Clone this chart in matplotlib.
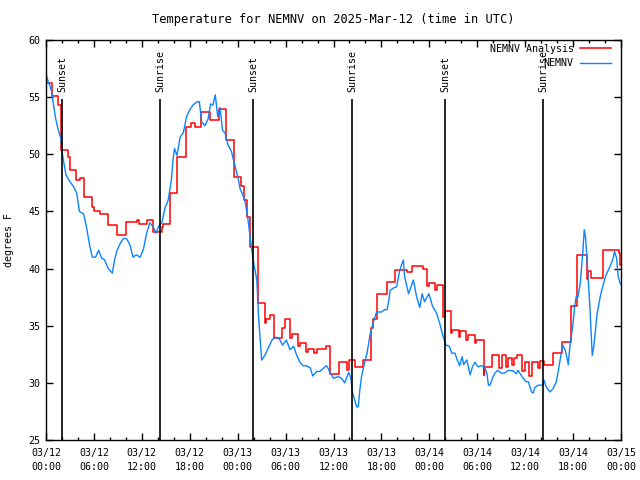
import datetime
import matplotlib
matplotlib.use('Agg')
import matplotlib.pyplot as plt
import matplotlib.dates as mdates

plt.rcParams['font.family'] = ['DejaVu Sans Mono']
plt.rcParams['font.size'] = 7.2

# 数据：起始时间之后的小时数
start = datetime.datetime(2025, 3, 12, 0, 0)

# NEMNV Analysis（阶梯线，变化时刻和数值）
analysis_hours = [0.0, 0.8, 1.5, 1.9, 2.8, 3.0, 3.7, 4.2, 4.8, 5.7, 6.0, 6.8, 7.8, 8.85,
                  9.98, 11.35, 11.65, 12.6, 13.4, 14.5, 14.7, 15.5, 16.4, 17.5, 18.2, 18.6,
                  19.4, 20.5, 21.6, 22.5, 23.5, 24.4, 24.8, 25.2, 25.5, 26.5, 27.4, 27.6,
                  28.0, 28.5, 29.6, 29.9, 30.6, 30.8, 31.6, 31.8, 32.6, 32.8, 33.6, 33.9,
                  35.0, 35.6, 36.7, 37.7, 37.9, 38.7, 39.7, 40.7, 40.9, 41.5, 42.7, 43.7,
                  45.2, 45.8, 47.25, 47.7, 48.0, 48.7, 48.9, 49.7, 49.9, 50.7, 50.9, 51.7,
                  51.9, 52.55, 52.9, 53.7, 53.9, 54.8, 54.9, 55.8, 56.7, 57.1, 57.6, 57.9,
                  58.3, 58.6, 59.0, 59.6, 60.0, 60.5, 60.8, 61.6, 61.8, 62.4, 63.5, 64.6,
                  65.8, 66.5, 67.7, 67.9, 68.3, 69.7, 71.7, 71.9, 72.0]
analysis_temps = [56.2, 55.1, 54.3, 50.4, 49.8, 48.6, 47.75, 47.9, 46.3, 45.4, 45.0, 44.8, 43.8, 42.9,
                  44.1, 44.25, 43.9, 44.25, 43.2, 43.6, 43.9, 46.6, 49.75, 52.4, 52.7, 52.4,
                  53.7, 53.0, 54.0, 51.25, 48.0, 47.2, 46.0, 44.5, 41.9, 37.0, 35.2, 35.6,
                  35.9, 33.9, 34.8, 35.6, 33.9, 34.3, 33.2, 33.5, 32.7, 32.95, 32.6, 32.95,
                  33.25, 30.8, 31.8, 31.1, 32.0, 31.4, 32.0, 34.8, 35.6, 37.75, 38.85, 39.9,
                  39.7, 40.2, 40.0, 38.5, 38.7, 38.1, 38.6, 35.8, 36.3, 34.35, 34.6, 34.0,
                  34.5, 33.75, 34.2, 33.5, 33.75, 30.7, 31.4, 32.4, 31.3, 32.4, 31.4, 32.2,
                  31.6, 32.2, 32.4, 31.0, 31.8, 30.6, 31.8, 31.3, 31.9, 31.6, 32.65, 33.6,
                  36.7, 41.2, 39.05, 39.8, 39.2, 41.6, 41.4, 40.3, 40.3]

# NEMNV 观测
obs_hours = [0.0, 0.08, 0.29, 0.5, 0.7, 0.9, 1.2, 1.55, 1.85, 2.1, 2.5, 3.0, 3.43, 3.85, 4.18,
             4.7, 5.05, 5.5, 5.8, 6.2, 6.6, 6.97, 7.3, 7.8, 8.3, 8.6, 8.9, 9.3, 9.7, 10.1,
             10.5, 10.9, 11.3, 11.8, 12.2, 12.6, 13.0, 13.4, 13.8, 14.1, 14.5, 14.9, 15.3,
             15.7, 15.9, 16.1, 16.4, 16.8, 17.2, 17.6, 18.0, 18.4, 18.9, 19.2, 19.5, 19.9,
             20.3, 20.6, 20.9, 21.2, 21.5, 21.8, 22.1, 22.4, 22.8, 23.2, 23.7, 24.1, 24.3,
             24.9, 25.3, 25.6, 26.0, 26.4, 26.6, 26.8, 27.0, 27.4, 27.8, 28.3, 28.7, 29.1,
             29.3, 29.6, 30.1, 30.55, 31.0, 31.4, 31.8, 32.2, 32.6, 33.1, 33.4, 33.9, 34.3,
             35.1, 35.3, 35.5, 36.0, 36.6, 37.0, 37.4, 37.9, 38.0, 38.2, 38.4, 38.9, 39.1,
             39.3, 39.5, 39.8, 40.2, 40.6, 41.0, 41.4, 42.0, 42.4, 42.7, 42.9, 43.1, 43.5,
             43.9, 44.25, 44.5, 44.75, 44.9, 45.4, 45.8, 46.0, 46.4, 46.8, 47.1, 47.4, 47.7,
             47.95, 48.4, 48.9, 49.3, 49.75, 50.1, 50.5, 50.8, 51.2, 51.5, 51.8, 52.1, 52.3,
             52.7, 53.1, 53.4, 53.7, 54.1, 54.5, 54.9, 55.2, 55.4, 55.6, 55.9, 56.2, 56.6,
             57.0, 57.4, 57.9, 58.5, 58.9, 59.1, 59.6, 60.1, 60.4, 60.8, 61.0, 61.2, 61.65,
             62.2, 62.35, 62.6, 63.1, 63.5, 63.9, 64.1, 64.3, 64.7, 65.0, 65.2, 65.4, 65.6,
             65.95, 66.2, 66.4, 66.6, 66.9, 67.2, 67.4, 67.55, 67.7, 67.9, 68.1, 68.3, 68.4,
             68.6, 68.8, 69.0, 69.4, 69.7, 70.1, 70.5, 70.95, 71.2, 71.45, 71.65, 71.9, 72.0]
obs_temps = [56.9, 56.85, 56.3, 56.0, 55.5, 54.5, 53.15, 52.1, 51.4, 49.8, 48.2, 47.6, 47.2, 46.6, 45.0,
             44.8, 43.7, 41.9, 41.0, 41.0, 41.6, 40.9, 40.8, 40.0, 39.6, 40.8, 41.6, 42.2, 42.65, 42.6,
             42.1, 41.0, 41.2, 41.0, 41.7, 43.1, 44.0, 43.7, 43.1, 43.7, 44.0, 45.3, 46.0,
             47.75, 49.5, 50.5, 49.9, 51.5, 51.9, 53.3, 53.9, 54.3, 54.6, 54.6, 52.8, 52.5,
             53.1, 54.4, 54.3, 55.2, 53.3, 54.1, 52.1, 51.9, 50.8, 50.3, 48.9, 47.75, 47.0,
             46.0, 44.25, 42.5, 40.5, 39.0, 36.0, 34.0, 32.0, 32.4, 33.0, 33.75, 34.0, 33.9,
             33.75, 33.3, 33.75, 32.9, 33.2, 32.4, 31.8, 31.5, 31.5, 31.3, 30.6, 31.0, 31.0,
             31.5, 31.3, 31.0, 30.4, 30.55, 30.4, 30.0, 30.9, 30.8, 30.25, 29.1, 27.9, 27.9,
             29.4, 30.5, 31.5, 32.6, 34.3, 35.35, 36.2, 36.2, 36.4, 36.4, 37.1, 38.1, 38.3,
             38.4, 39.7, 40.3, 40.75, 39.3, 37.8, 38.6, 39.0, 37.55, 36.6, 37.8, 37.1, 37.5,
             37.8, 36.7, 36.1, 35.2, 34.0, 33.3, 33.2, 32.6, 32.6, 32.0, 31.5, 32.3, 31.6,
             32.0, 30.7, 31.4, 31.8, 31.4, 31.5, 31.4, 30.85, 29.8, 29.8, 30.4, 30.85, 31.1,
             30.85, 30.85, 31.1, 31.05, 30.8, 31.1, 30.55, 30.1, 30.1, 29.2, 29.1, 29.6, 29.8,
             29.8, 30.25, 29.7, 29.2, 29.5, 30.1, 30.85, 31.7, 33.3, 32.9, 32.3, 31.6, 33.2,
             34.9, 36.7, 37.6, 37.5, 38.7, 41.3, 43.4, 42.8, 41.3, 39.0, 36.7, 33.75, 32.4,
             33.2, 34.6, 36.0, 37.55, 38.4, 39.4, 40.0, 40.75, 41.5, 40.9, 39.3, 38.7, 38.6]

# 日出日落
event_hours = [2.04, 14.27, 25.96, 38.33, 50.0, 62.27]
event_names = ['Sunset', 'Sunrise', 'Sunset', 'Sunrise', 'Sunset', 'Sunrise']

def to_time(hours):
    return [start + datetime.timedelta(hours=h) for h in hours]

fig = plt.figure(figsize=(6.4, 4.8), dpi=100)
ax = fig.add_axes([46 / 640, 40 / 480, 575 / 640, 400 / 480])

ax.plot(to_time(analysis_hours), analysis_temps, color='#ff0000', lw=1.1,
        drawstyle='steps-post', label='NEMNV Analysis')
ax.plot(to_time(obs_hours), obs_temps, color='#0a84ff', lw=1.0, label='NEMNV')

for h, name in zip(event_hours, event_names):
    t = start + datetime.timedelta(hours=h)
    ax.vlines(t, 25, 54.8, color='black', lw=1.2)
    ax.text(t, 55.45, name, rotation=90, ha='center', va='bottom')

ax.set_xlim(start, start + datetime.timedelta(hours=72))
ax.set_ylim(25, 60)
ax.set_yticks(range(25, 61, 5))
ax.xaxis.set_major_locator(mdates.HourLocator(byhour=range(0, 24, 6)))
ax.xaxis.set_minor_locator(mdates.HourLocator(byhour=range(0, 24, 2)))
ax.xaxis.set_major_formatter(mdates.DateFormatter('%m/%d\n%H:%M'))

ax.tick_params(which='both', direction='in', top=True, right=True, width=1.0)
ax.tick_params(which='major', length=5)
ax.tick_params(which='minor', length=2.5)
ax.tick_params(axis='x', pad=6)
ax.tick_params(axis='y', pad=4)
for lbl in ax.get_xticklabels():
    lbl.set_linespacing(1.5)
for s in ax.spines.values():
    s.set_linewidth(1.0)

ax.set_title('Temperature for NEMNV on 2025-Mar-12 (time in UTC)', pad=12)
ax.set_ylabel('degrees F')
ax.yaxis.set_label_coords(-0.055, 0.5)

ax.legend(loc='upper right', bbox_to_anchor=(0.982, 0.99), frameon=False, markerfirst=False,
          handlelength=3.1, handletextpad=0.6, labelspacing=0.45, borderpad=0, borderaxespad=0)

plt.savefig('out.png', dpi=100)
